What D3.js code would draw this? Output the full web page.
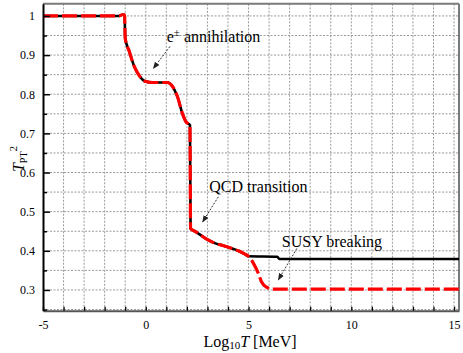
<!DOCTYPE html>
<html><head><meta charset="utf-8">
<script src="https://cdn.jsdelivr.net/npm/d3@7"></script>
<style>body{margin:0;background:#fff}svg{display:block}text{font-family:"Liberation Serif","DejaVu Serif",serif !important}</style>
</head><body><svg id="c" width="463" height="353"></svg>
<script>
// shared part of both curves (log10 T [MeV], T_PT^2)
const sharedLogT = [-5, -1.3, -1.15, -1.03, -1.0, -0.8, -0.56, -0.31, -0.07, 0.33, 1.05, 1.3, 1.54, 1.78, 1.95, 2.15, 2.18, 2.42, 2.9, 3.39, 3.79, 4.2, 4.5, 4.8, 5.0];
const sharedVal  = [1.0, 1.0, 1.003, 1.003, 0.943, 0.909, 0.871, 0.847, 0.834, 0.83, 0.83, 0.82, 0.794, 0.751, 0.73, 0.721, 0.457, 0.449, 0.432, 0.419, 0.413, 0.406, 0.400, 0.392, 0.386];
// Standard model tail (black solid)
const smLogT = [5.0, 6.4, 6.5, 15.24];
const smVal  = [0.386, 0.385, 0.379, 0.379];
// SUSY tail (red dashed)
const susyLogT = [5.0, 5.24, 5.48, 5.63, 5.87, 6.2, 15.24];
const susyVal  = [0.386, 0.368, 0.342, 0.321, 0.307, 0.302, 0.302];
const xTicks = [-5, 0, 5, 10, 15];
const yTicks = [0.3, 0.4, 0.5, 0.6, 0.7, 0.8, 0.9, 1];
const annotations = [
  {text: "annihilation", pre: "e", sup: "±", tx: 1.02, ty: 0.934, ax1: 1.18, ay1: 0.922, ax2: 0.37, ay2: 0.866},
  {text: "QCD transition", tx: 3.09, ty: 0.551, ax1: 3.53, ay1: 0.538, ax2: 2.77, ay2: 0.474},
  {text: "SUSY breaking", tx: 6.62, ty: 0.411, ax1: 7.35, ay1: 0.406, ax2: 6.45, ay2: 0.326}
];

const FONT = "Liberation Serif, DejaVu Serif, serif";
const svg = d3.select("#c");
const L = 43, R = 459, T = 3.8, B = 310.7;
const x = d3.scaleLinear().domain([-5, 15.24]).range([L, R]);
const y = d3.scaleLinear().domain([0.247, 1.031]).range([B, T]);

// grid
const g = svg.append("g");
g.selectAll(".vg").data(d3.range(-4, 16, 1)).enter().append("line")
  .attr("x1", d => x(d)).attr("x2", d => x(d)).attr("y1", T).attr("y2", B)
  .attr("stroke", "#9a9a9a").attr("stroke-width", 1).attr("stroke-dasharray", "2,1.5");
g.selectAll(".hg").data(d3.range(0.25, 1.03, 0.05)).enter().append("line")
  .attr("x1", L).attr("x2", R).attr("y1", d => y(d)).attr("y2", d => y(d))
  .attr("stroke", "#9a9a9a").attr("stroke-width", 1).attr("stroke-dasharray", "2,1.5");

// frame top/right
svg.append("line").attr("x1", L).attr("x2", R).attr("y1", T).attr("y2", T).attr("stroke", "#7a7a7a").attr("stroke-width", 2);
svg.append("line").attr("x1", R).attr("x2", R).attr("y1", T).attr("y2", B).attr("stroke", "#7a7a7a").attr("stroke-width", 2);

// curves
const line = d3.line().x(d => x(d[0])).y(d => y(d[1])).curve(d3.curveMonotoneX);
const shared = sharedLogT.map((t, i) => [t, sharedVal[i]]);
const sm = shared.concat(smLogT.slice(1).map((t, i) => [t, smVal[i + 1]]));
const susy = shared.concat(susyLogT.slice(1).map((t, i) => [t, susyVal[i + 1]]));
svg.append("path").attr("d", line(sm)).attr("fill", "none").attr("stroke", "#000").attr("stroke-width", 2.6);
svg.append("path").attr("d", line(susy)).attr("fill", "none").attr("stroke", "#ff0000").attr("stroke-width", 3.2).attr("stroke-dasharray", "15,4");

// axes
const xAxis = d3.axisBottom(x).tickValues(d3.range(-5, 16, 1)).tickSizeInner(-4).tickSizeOuter(0).tickFormat(d => xTicks.includes(d) ? d : "");
const xg = svg.append("g").attr("transform", `translate(0,${B})`).call(xAxis).attr("font-family", FONT);
xg.select(".domain").attr("stroke", "#555").attr("stroke-width", 2);
xg.selectAll(".tick line").attr("stroke", "#000").attr("stroke-width", 1.3);
xg.selectAll(".tick text").attr("y", 10).attr("dy", "0.71em").attr("font-size", 12).attr("font-family", FONT).attr("fill", "#000");

const yAxis = d3.axisLeft(y).tickValues(d3.range(0.25, 1.03, 0.05).map(v => +v.toFixed(2))).tickSizeInner(0).tickSizeOuter(0).tickFormat(d => yTicks.some(t => Math.abs(t - d) < 1e-6) ? d3.format("~g")(d) : "");
const yg = svg.append("g").attr("transform", `translate(${L},0)`).call(yAxis).attr("font-family", FONT);
yg.select(".domain").attr("stroke", "#000").attr("stroke-width", 2);
yg.selectAll(".tick line").attr("x2", d => yTicks.some(t => Math.abs(t - d) < 1e-6) ? 7 : 4).attr("stroke", "#000").attr("stroke-width", 1.5);
yg.selectAll(".tick text").attr("x", -8).attr("font-size", 12).attr("font-family", FONT).attr("fill", "#000");

// axis titles
const xt = svg.append("text").attr("x", 250).attr("y", 346.5).attr("text-anchor", "middle").attr("font-size", 16).attr("font-family", FONT);
xt.append("tspan").text("Log");
xt.append("tspan").attr("font-size", 11).attr("dy", 2).text("10");
xt.append("tspan").attr("font-style", "italic").attr("dy", -2).text("T");
xt.append("tspan").text(" [MeV]");

const yt = svg.append("text").attr("transform", "translate(24,159) rotate(-90)").attr("text-anchor", "middle").attr("font-size", 16).attr("font-family", FONT);
yt.append("tspan").attr("font-style", "italic").text("T");
yt.append("tspan").attr("font-size", 10).attr("dy", 3).text("PT");
yt.append("tspan").attr("font-size", 11).attr("dy", -10).text("2");

// annotations
svg.append("defs").append("marker").attr("id", "ah").attr("viewBox", "0 0 10 10").attr("refX", 9).attr("refY", 5)
  .attr("markerWidth", 7).attr("markerHeight", 7).attr("orient", "auto")
  .append("path").attr("d", "M0,1 L10,5 L0,9 Z").attr("fill", "#222");
annotations.forEach(a => {
  svg.append("line").attr("x1", x(a.ax1)).attr("y1", y(a.ay1)).attr("x2", x(a.ax2)).attr("y2", y(a.ay2))
    .attr("stroke", "#333").attr("stroke-width", 1).attr("stroke-dasharray", "2,1.5").attr("marker-end", "url(#ah)");
  const t = svg.append("text").attr("x", x(a.tx)).attr("y", y(a.ty)).attr("font-size", 16).attr("fill", "#000").attr("font-family", FONT);
  if (a.pre) {
    t.append("tspan").text(a.pre);
    t.append("tspan").attr("font-size", 11).attr("dy", -6).text(a.sup);
    t.append("tspan").attr("dy", 6).text(" " + a.text);
  } else t.text(a.text);
});
</script></body></html>
